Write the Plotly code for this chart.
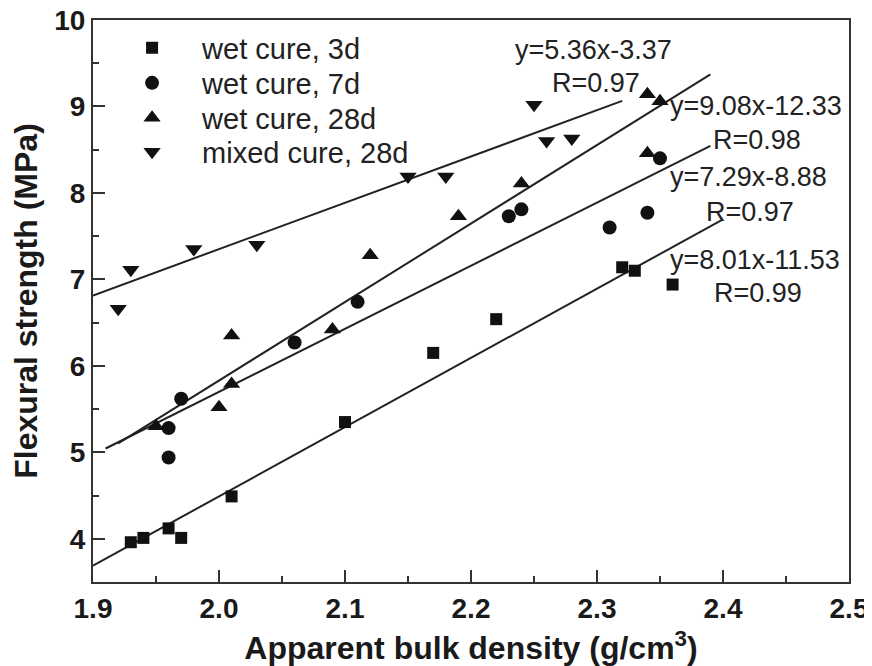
import plotly.graph_objects as go

# ---- data ----
sq_x = [1.93, 1.94, 1.96, 1.97, 2.01, 2.10, 2.17, 2.22, 2.32, 2.33, 2.36]
sq_y = [3.96, 4.01, 4.12, 4.01, 4.49, 5.35, 6.15, 6.54, 7.14, 7.10, 6.94]

ci_x = [1.96, 1.96, 1.97, 2.06, 2.11, 2.23, 2.24, 2.31, 2.34, 2.35]
ci_y = [4.94, 5.28, 5.62, 6.27, 6.74, 7.73, 7.81, 7.60, 7.77, 8.40]

tu_x = [1.95, 2.00, 2.01, 2.01, 2.09, 2.12, 2.19, 2.24, 2.34, 2.34, 2.35]
tu_y = [5.30, 5.52, 5.79, 6.35, 6.42, 7.28, 7.73, 8.11, 8.46, 9.14, 9.06]

td_x = [1.92, 1.93, 1.98, 2.03, 2.15, 2.18, 2.25, 2.26, 2.28]
td_y = [6.66, 7.11, 7.35, 7.40, 8.19, 8.19, 9.02, 8.60, 8.63]

series_names = ["wet cure, 3d", "wet cure, 7d", "wet cure, 28d", "mixed cure, 28d"]

fit_slope = [8.01, 7.29, 9.08, 5.36]
fit_icpt = [-11.53, -8.88, -12.33, -3.37]
fit_x0 = [1.90, 1.91, 1.92, 1.90]
fit_x1 = [2.40, 2.39, 2.39, 2.32]
fit_eq = ["y=8.01x-11.53", "y=7.29x-8.88", "y=9.08x-12.33", "y=5.36x-3.37"]
fit_r = ["R=0.99", "R=0.97", "R=0.98", "R=0.97"]

x_ticks = [1.9, 2.0, 2.1, 2.2, 2.3, 2.4, 2.5]
y_ticks = [4, 5, 6, 7, 8, 9, 10]

# ---- figure ----
FONT = "Liberation Sans, Arial, sans-serif"
INK = "#1a1a1a"
fig = go.Figure()

# fitted lines
for s, c, a, b in zip(fit_slope, fit_icpt, fit_x0, fit_x1):
    fig.add_trace(go.Scatter(x=[a, b], y=[s * a + c, s * b + c], mode="lines",
                             line=dict(color="#222222", width=2),
                             showlegend=False, hoverinfo="skip"))

symbols = ["square", "circle", "triangle-up", "triangle-down"]
sizes = [12, 14, 15, 15]
legend_ids = ["legend", "legend2", "legend3", "legend4"]
for name, xs, ys, sym, sz, lg in zip(series_names, [sq_x, ci_x, tu_x, td_x],
                                     [sq_y, ci_y, tu_y, td_y], symbols, sizes,
                                     legend_ids):
    fig.add_trace(go.Scatter(x=xs, y=ys, mode="markers", name=name, legend=lg,
                             marker=dict(symbol=sym, size=sz, color="#111111",
                                         line=dict(width=0))))

# equation labels (left x, centre y in data units)
eq_pos = [(2.359, 7.225), (2.359, 8.19), (2.359, 9.001), (2.236, 9.658)]
r_pos = [(2.394, 6.84), (2.387, 7.78), (2.393, 8.615), (2.265, 9.272)]
for t, (ax_, ay_) in zip(fit_eq, eq_pos):
    fig.add_annotation(x=ax_, y=ay_, text=t, showarrow=False, xanchor="left",
                       yanchor="middle", xshift=-3,
                       font=dict(family=FONT, size=27, color="#222222"))
for t, (ax_, ay_) in zip(fit_r, r_pos):
    fig.add_annotation(x=ax_, y=ay_, text=t, showarrow=False, xanchor="left",
                       yanchor="middle", xshift=-3,
                       font=dict(family=FONT, size=27, color="#222222"))

axis_common = dict(showline=True, linecolor="#333333", linewidth=2, mirror=True,
                   ticks="inside", ticklen=12, tickwidth=2, tickcolor="#333333",
                   showgrid=False, zeroline=False, automargin=False,
                   ticklabeloverflow="allow",
                   tickfont=dict(family=FONT, size=28, color=INK, weight="bold"),
                   minor=dict(ticks="inside", ticklen=6, tickwidth=2,
                              tickcolor="#333333", showgrid=False))

fig.update_xaxes(range=[1.9, 2.5], tickvals=x_ticks,
                 ticktext=[f"{v:.1f}" for v in x_ticks],
                 title=dict(text="Apparent bulk density (g/cm<sup>3</sup>)",
                            font=dict(family=FONT, size=32, color=INK, weight="bold"),
                            standoff=15),
                 **axis_common)
fig.update_xaxes(minor=dict(dtick=0.05, tick0=1.9))
fig.update_yaxes(range=[3.5, 10], tickvals=y_ticks,
                 ticktext=[str(v) for v in y_ticks],
                 title=dict(text="Flexural strength (MPa)",
                            font=dict(family=FONT, size=32, color=INK, weight="bold"),
                            standoff=18),
                 **axis_common)
fig.update_yaxes(minor=dict(dtick=0.5, tick0=3.5))

leg_common = dict(x=0.012, xanchor="left", yanchor="middle",
                  bgcolor="rgba(0,0,0,0)", borderwidth=0,
                  font=dict(family=FONT, size=29, color="#222222"),
                  itemwidth=90)
leg_rows = [48, 83, 118, 152]  # pixel centres of legend rows (window coords)
plot_top, plot_h = 20, 562
legends = {}
for lg, row in zip(legend_ids, leg_rows):
    legends[lg] = dict(leg_common, y=1 - (row - plot_top) / plot_h)

# page body adds an 8px offset, so the figure is sized to fit the window
fig.update_layout(
    width=864, height=658,
    margin=dict(l=85, r=23, t=12, b=84),
    plot_bgcolor="white", paper_bgcolor="white",
    font=dict(family=FONT, color=INK),
    showlegend=True,
    **legends,
)

fig.write_html("out.html")
